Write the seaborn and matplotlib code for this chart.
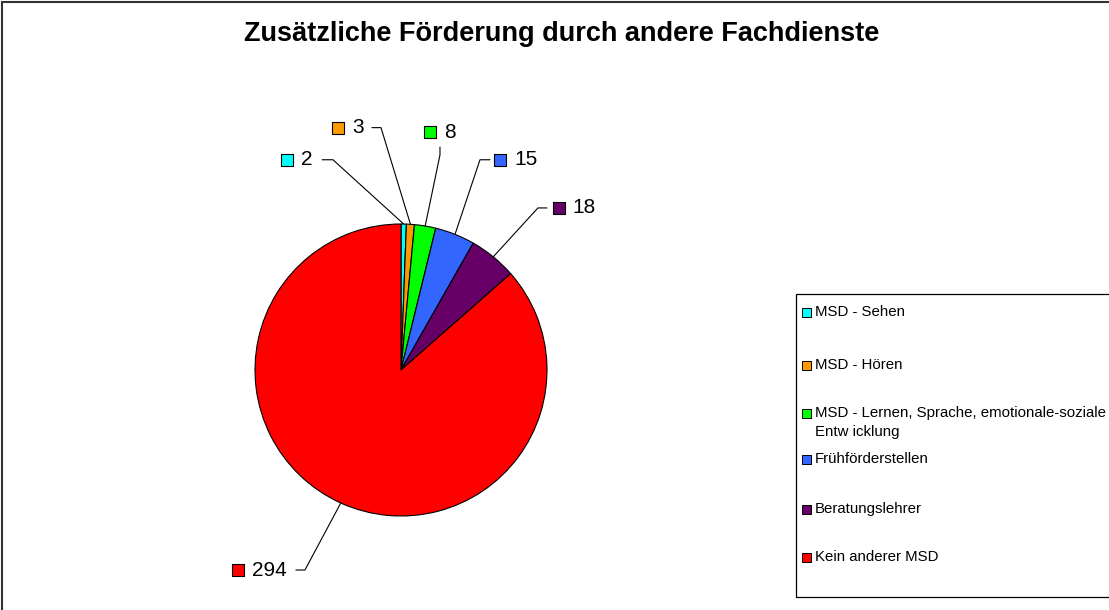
import numpy as np
import matplotlib.pyplot as plt
from matplotlib.patches import Rectangle
import seaborn as sns

# Daten
categories = ['MSD - Sehen', 'MSD - Hören',
              'MSD - Lernen, Sprache, emotionale-soziale\nEntw icklung',
              'Frühförderstellen', 'Beratungslehrer', 'Kein anderer MSD']
values = [2, 3, 8, 15, 18, 294]
colors = ['#00FFFF', '#FF9900', '#00FF00', '#3366FF', '#660066', '#FF0000']

# Layout der Beschriftungen (Pie-Einheiten, Radius = 1)
label_pos = [(-0.78, 1.44), (-0.43, 1.66), (0.20, 1.63), (0.68, 1.44), (1.08, 1.11), (-1.117, -1.37)]
elbow_pos = [(-0.466, 1.44), (-0.137, 1.66), (0.267, 1.473), (0.541, 1.44), (0.938, 1.11), (-0.658, -1.37)]
stub_end = [(-0.54, 1.44), (-0.199, 1.66), (0.267, 1.527), (0.61, 1.44), (1.0, 1.11), (-0.72, -1.37)]

# Legende: Zeilen (Pixel von oben)
legend_rows = [312, 365, 413, 459, 509, 557]

sns.set_style('white')
plt.rcParams['font.family'] = ['Liberation Sans', 'DejaVu Sans']

W, H = 1109, 610
fig = plt.figure(figsize=(W / 100, H / 100), dpi=100)
ax = fig.add_axes([0, 0, 1, 1])

wedges, _ = ax.pie(values, colors=colors, startangle=90, counterclock=False,
                   wedgeprops=dict(edgecolor='black', linewidth=0.8))

# Mittelpunkt bei (401, 370) px, Radius 146 px
cx, cy, r = 401, 370, 146
ax.set_xlim(-cx / r, (W - cx) / r)
ax.set_ylim(-(H - cy) / r, cy / r)
ax.set_aspect('auto')
ax.axis('off')

# Beschriftungen mit Führungslinien
for w, v, c, (lx, ly), (ex, ey), (sx, sy) in zip(wedges, values, colors, label_pos, elbow_pos, stub_end):
    ang = np.deg2rad((w.theta1 + w.theta2) / 2)
    px, py = np.cos(ang), np.sin(ang)
    ax.plot([px, ex, sx], [py, ey, sy], color='black', lw=0.8)
    ax.scatter([lx], [ly], marker='s', s=85, color=c, edgecolor='black', linewidth=0.8, zorder=5)
    ax.text(lx + 0.095, ly, str(v), fontsize=15, va='center', ha='left', color='black')

fig.text(561.5 / W, 1 - 41 / H, 'Zusätzliche Förderung durch andere Fachdienste',
         fontsize=19.5, fontweight='bold', ha='center', va='baseline', color='black')


def fx(x):
    return x / W


def fy(y):
    return 1 - y / H


# Legende (Rahmen rechts abgeschnitten wie im Original)
fig.patches.append(Rectangle((fx(796), fy(597)), 1.0, (597 - 294) / H, transform=fig.transFigure,
                             fill=False, edgecolor='black', linewidth=0.9))
for lab, c, yr in zip(categories, colors, legend_rows):
    fig.patches.append(Rectangle((fx(802), fy(yr + 4.5)), 9 / W, 9 / H, transform=fig.transFigure,
                                 facecolor=c, edgecolor='black', linewidth=0.7))
    lines = lab.split('\n')
    for i, line in enumerate(lines):
        fig.text(fx(815), fy(yr + 19 * i), line, fontsize=10.8, ha='left', va='center', color='black')

# Rahmen um das Diagramm
fig.patches.append(Rectangle((fx(2), -0.1), 1.2, fy(2) + 0.1, transform=fig.transFigure,
                             fill=False, edgecolor='#333333', linewidth=1.5))

fig.savefig('out.png', dpi=100)
